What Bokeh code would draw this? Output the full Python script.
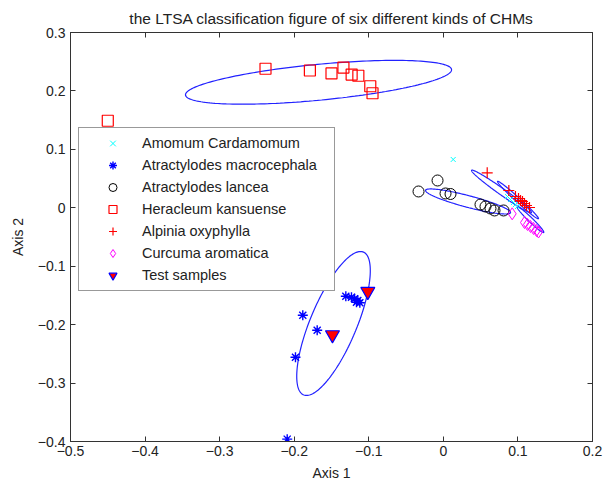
import numpy as np
from bokeh.plotting import figure
from bokeh.models import LinearAxis, FixedTicker, Legend, LegendItem, Range1d
from bokeh.embed import file_html
from bokeh.resources import INLINE

# ---- data ----
amomum_x = [0.0132, 0.0860, 0.0900, 0.0941, 0.0967, 0.0994]
amomum_y = [0.0827, 0.0193, 0.0142, 0.0091, 0.0056, 0.0022]
macro_x = [-0.1885, -0.1692, -0.1983, -0.1308, -0.1232, -0.1191, -0.1147, -0.1120, -0.1165, -0.2094]
macro_y = [-0.1838, -0.2095, -0.2557, -0.1513, -0.1530, -0.1558, -0.1587, -0.1626, -0.1616, -0.3960]
lancea_x = [-0.0333, -0.0078, 0.0029, 0.0096, 0.0498, 0.0565, 0.0632, 0.0686, 0.0807]
lancea_y = [0.0279, 0.0467, 0.0245, 0.0236, 0.0056, 0.0022, -0.0012, -0.0046, -0.0046]
hera_x = [-0.450, -0.2385, -0.179, -0.150, -0.134, -0.123, -0.114, -0.098, -0.095]
hera_y = [0.149, 0.238, 0.235, 0.230, 0.240, 0.228, 0.226, 0.208, 0.196]
alp_x = [0.0588, 0.0878, 0.0967, 0.1008, 0.1035, 0.1061, 0.1088, 0.1115, 0.1155]
alp_y = [0.0599, 0.0296, 0.0193, 0.0159, 0.0125, 0.0108, 0.0073, 0.0039, 0.0005]
cur_x = [0.0923, 0.1088, 0.1128, 0.1169, 0.1209, 0.1249, 0.1276]
cur_y = [-0.0103, -0.0252, -0.0286, -0.0320, -0.0354, -0.0389, -0.0414]
test_x = [-0.1487, -0.1013]
test_y = [-0.2174, -0.1433]

# ellipses: centre, conjugate semi-axis vectors u and v (data units)
ell_cx = [-0.1674, -0.1473, 0.0331, 0.0780, 0.1001, 0.1169]
ell_cy = [0.2148, -0.1980, 0.0108, 0.0279, 0.0133, -0.0204]
ell_ux = [0.1784, 0.0362, 0.0570, 0.0402, 0.0275, 0.0178]
ell_uy = [0.0214, 0.1232, -0.0188, -0.0359, -0.0317, -0.0214]
ell_vx = [0.0, 0.0335, 0.0, 0.0, 0.0, 0.0]
ell_vy = [0.0308, 0.0, 0.0103, 0.0068, 0.0051, 0.0051]

labels = ["Amomum Cardamomum", "Atractylodes macrocephala", "Atractylodes lancea",
          "Heracleum kansuense", "Alpinia oxyphylla", "Curcuma aromatica", "Test samples"]
x_ticks = [-0.5, -0.4, -0.3, -0.2, -0.1, 0, 0.1, 0.2]
y_ticks = [-0.4, -0.3, -0.2, -0.1, 0, 0.1, 0.2, 0.3]

FONT = "Liberation Sans"

p = figure(width=611, height=485, output_backend="svg", toolbar_location=None,
           x_range=Range1d(-0.5, 0.2), y_range=Range1d(-0.4, 0.3),
           min_border_left=70, min_border_right=19, min_border_top=32, min_border_bottom=44,
           title="the LTSA classification figure of six different kinds of CHMs")
p.title.align = "center"
p.title.text_font = FONT
p.title.text_font_size = "15.5px"
p.title.text_font_style = "normal"
p.title.text_color = "#222222"
p.title.standoff = 8
p.title.vertical_align = "top"
p.xgrid.visible = False
p.ygrid.visible = False
p.outline_line_color = "#333333"
p.background_fill_color = "white"
p.border_fill_color = "white"

for ax in (p.xaxis[0], p.yaxis[0]):
    ax.major_tick_in = 5
    ax.major_tick_out = 0
    ax.minor_tick_line_color = None
    ax.axis_line_color = "#333333"
    ax.major_tick_line_color = "#333333"
    ax.major_label_text_font = FONT
    ax.major_label_text_font_size = "14px"
    ax.major_label_text_color = "#222222"
    ax.axis_label_text_font = FONT
    ax.axis_label_text_font_size = "14px"
    ax.axis_label_text_font_style = "normal"
    ax.axis_label_text_color = "#222222"
p.xaxis.ticker = FixedTicker(ticks=x_ticks)
p.yaxis.ticker = FixedTicker(ticks=y_ticks)
p.xaxis.major_label_overrides = {0: "0"}
p.yaxis.major_label_overrides = {0: "0"}
p.xaxis.axis_label = "Axis 1"
p.yaxis.axis_label = "Axis 2"
p.xaxis.major_label_standoff = 4
p.yaxis.major_label_standoff = 5
p.xaxis.axis_label_standoff = 6
p.yaxis.axis_label_standoff = 9

for loc, tk in (("above", x_ticks), ("right", y_ticks)):
    a = LinearAxis(ticker=FixedTicker(ticks=tk), major_tick_in=5, major_tick_out=0,
                   minor_tick_line_color=None, major_label_text_font_size="1px",
                   major_label_text_color=None, major_label_standoff=0,
                   axis_line_color="#333333", major_tick_line_color="#333333")
    p.add_layout(a, loc)

# ellipses
t = np.linspace(0, 2 * np.pi, 200)
for cx, cy, ux, uy, vx, vy in zip(ell_cx, ell_cy, ell_ux, ell_uy, ell_vx, ell_vy):
    p.line(cx + ux * np.cos(t) + vx * np.sin(t), cy + uy * np.cos(t) + vy * np.sin(t),
           line_color="#2222ff", line_width=1.2)

r1 = p.scatter(amomum_x, amomum_y, marker="x", size=7, line_color="cyan", line_width=1)
r2 = p.scatter(macro_x, macro_y, marker="asterisk", size=10, line_color="blue", line_width=1.4)
r3 = p.scatter(lancea_x, lancea_y, marker="circle", size=11, line_color="black", fill_color=None, line_width=1)
r4 = p.scatter(hera_x, hera_y, marker="square", size=11, line_color="red", fill_color=None, line_width=1.2)
r5 = p.scatter(alp_x, alp_y, marker="cross", size=11, line_color="red", line_width=1.2)
r6 = p.scatter(cur_x, cur_y, marker="diamond", size=12, line_color="magenta", fill_color=None, line_width=1)
r7 = p.scatter(test_x, test_y, marker="inverted_triangle", size=14, line_color="blue", fill_color="red", line_width=1.2)

items = [LegendItem(label=l, renderers=[r]) for l, r in zip(labels, [r1, r2, r3, r4, r5, r6, r7])]
leg = Legend(items=items, location=(8, 150), padding=5, spacing=2, margin=0,
             glyph_width=57, glyph_height=20, label_height=20, label_standoff=1, label_width=187,
             label_text_font=FONT, label_text_font_size="14.5px", label_text_color="#222222",
             border_line_color="#333333", border_line_width=1, background_fill_color="white",
             background_fill_alpha=1)
p.add_layout(leg)

open("out.html", "w").write(file_html(p, INLINE))
